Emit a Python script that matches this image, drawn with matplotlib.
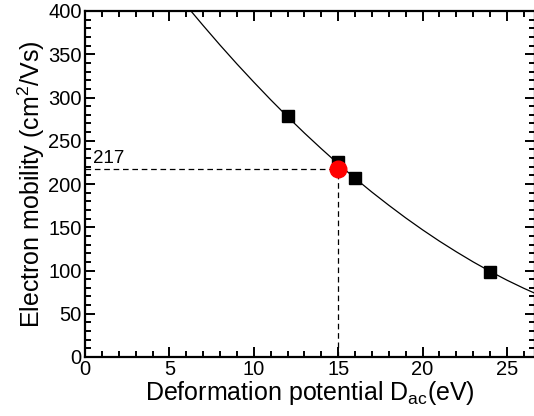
import matplotlib
matplotlib.use("Agg")
import matplotlib.pyplot as plt
from matplotlib.ticker import MultipleLocator

plt.rcParams['font.family'] = ['Liberation Sans', 'DejaVu Sans']
plt.rcParams['mathtext.fontset'] = 'custom'
plt.rcParams['mathtext.rm'] = 'Liberation Sans'
plt.rcParams['mathtext.it'] = 'Liberation Sans:italic'

# Data
curve_x = [6, 7, 8, 9, 10, 11, 12, 13, 14, 15, 16, 17, 18, 19, 20, 21, 22, 23, 24, 25, 26, 27]
curve_y = [406.4, 383.2, 360.6, 338.8, 317.8, 297.4, 277.8, 258.9, 240.8, 223.3, 206.6,
           190.6, 175.4, 160.8, 147.0, 133.9, 121.6, 109.9, 99.0, 88.8, 79.4, 70.7]
square_x = [12, 15, 16, 24]
square_y = [279, 225.5, 206.6, 98.6]
marked_x = 15
marked_y = 217
marked_label = "217"

fig = plt.figure(figsize=(5.34, 4.16), dpi=100)
ax = fig.add_axes([85/534, 59/416, 450/534, (357-11)/416])

ax.plot(curve_x, curve_y, color='black', lw=0.9, zorder=2)
ax.plot(square_x, square_y, ls='none', marker='s', ms=9.2, color='black', zorder=3)
ax.plot([0, marked_x], [marked_y, marked_y], ls=(0, (4.5, 3)), color='black', lw=0.9, zorder=1)
ax.plot([marked_x, marked_x], [0, marked_y], ls=(0, (4.5, 3)), color='black', lw=0.9, zorder=1)
ax.plot([marked_x], [marked_y], ls='none', marker='o', ms=12, color='#ff0000', zorder=4)
ax.text(0.45, marked_y + 3, marked_label, fontsize=13.5, ha='left', va='bottom')

ax.set_xlim(0, 26.66)
ax.set_ylim(0, 400)
ax.xaxis.set_major_locator(MultipleLocator(5))
ax.xaxis.set_minor_locator(MultipleLocator(1))
ax.yaxis.set_major_locator(MultipleLocator(50))
ax.yaxis.set_minor_locator(MultipleLocator(10))
ax.tick_params(which='both', direction='in', top=True, right=True, width=1.4, labelsize=14.5)
ax.tick_params(which='major', length=7, pad=2.5)
ax.tick_params(which='minor', length=4)
for s in ax.spines.values():
    s.set_linewidth(1.6)

ax.set_xlabel(r"Deformation potential D$_{\mathrm{ac}}$(eV)", fontsize=18, labelpad=0)
ax.set_ylabel(r"Electron mobility (cm$^{2}$/Vs)", fontsize=18, labelpad=1)

fig.savefig("out.png", dpi=100)
